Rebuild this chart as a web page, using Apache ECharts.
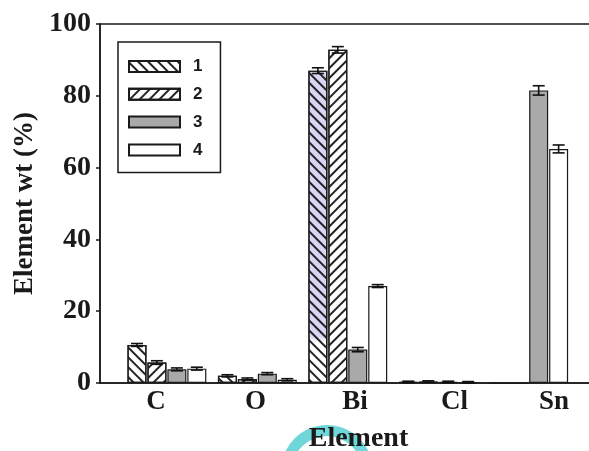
<!DOCTYPE html>
<html>
<head>
<meta charset="utf-8">
<script src="https://cdn.jsdelivr.net/npm/echarts@6/dist/echarts.min.js"></script>
<style>html,body{margin:0;padding:0;background:#fff}#c{width:589px;height:451px}</style>
</head>
<body>
<div id="c"></div>
<script>
// ---- data ----
const categories = ['C', 'O', 'Bi', 'Cl', 'Sn'];
const seriesNames = ['1', '2', '3', '4'];
const values1 = [10.6, 2.0, 87.0, 0.3, 0];
const values2 = [5.7, 1.1, 92.8, 0.4, 0];
const values3 = [3.8, 2.6, 9.3, 0.3, 81.5];
const values4 = [4.0, 0.9, 27.0, 0.2, 65.2];
const errors1 = [0.4, 0.3, 0.8, 0.2, 0];
const errors2 = [0.5, 0.3, 0.9, 0.2, 0];
const errors3 = [0.4, 0.3, 0.6, 0.2, 1.3];
const errors4 = [0.4, 0.3, 0.4, 0.2, 1.1];
const yTicks = [0, 20, 40, 60, 80, 100];

const allValues = [values1, values2, values3, values4];
const allErrors = [errors1, errors2, errors3, errors4];

// ---- layout ----
const gridLeft = 100, gridTop = 24, gridBottom = 68, gridRight = -28;
const gridW = 589 - gridLeft - gridRight;
const barStep = 90.45, firstBar = 166.9;     // px: group centres
const labStep = 99.5, firstLab = 156.1;      // px: category label centres
const barMin = 1 - (firstBar - gridLeft) / barStep;
const barMax = barMin + gridW / barStep;
const labMin = 1 - (firstLab - gridLeft) / labStep;
const labMax = labMin + gridW / labStep;
const barWidth = 19, barGapPct = 0.05;
const slot = barWidth * (1 + barGapPct);

const serif = '"Liberation Serif","Times New Roman",serif';
const ink = '#1a1a1a';

const hatch = (rot) => ({
  symbol: 'rect', symbolSize: 1,
  dashArrayX: [1, 0], dashArrayY: [1.3, 4.2],
  rotation: rot, color: '#222'
});

const styles = [
  { color: '#ffffff', borderColor: ink, borderWidth: 1.2, decal: hatch(Math.PI / 4) },
  { color: '#ffffff', borderColor: ink, borderWidth: 1.2, decal: hatch(-Math.PI / 4) },
  { color: '#a9a9a9', borderColor: ink, borderWidth: 1.2 },
  { color: '#ffffff', borderColor: ink, borderWidth: 1.2 }
];

const barSeries = seriesNames.map((name, i) => ({
  name, type: 'bar', xAxisIndex: 0, yAxisIndex: 0,
  barWidth, barGap: (barGapPct * 100) + '%',
  itemStyle: styles[i],
  data: allValues[i].map((v, k) => {
    const d = { value: [k + 1, v] };
    if (i === 0 && categories[k] === 'Bi') {
      d.itemStyle = {
        color: { type: 'linear', x: 0, y: 0, x2: 0, y2: 1, colorStops: [
          { offset: 0, color: '#d8d6f3' }, { offset: 0.85, color: '#d8d6f3' },
          { offset: 0.87, color: '#ffffff' }, { offset: 1, color: '#ffffff' }] }
      };
    }
    return d;
  })
}));

const errSeries = seriesNames.map((name, i) => ({
  type: 'custom', xAxisIndex: 0, yAxisIndex: 0, z: 5,
  encode: { x: 0, y: 1 },
  silent: true,
  data: allValues[i].map((v, k) => [k + 1, v, allErrors[i][k]]),
  renderItem: (params, api) => {
    const x = api.value(0), y = api.value(1), e = api.value(2);
    if (!e) return null;
    const top = api.coord([x, y + e]);
    const bot = api.coord([x, y - e]);
    const cx = top[0] + (i - 1.5) * slot;
    const hw = 6;
    const st = { stroke: '#111', lineWidth: 1.6 };
    return { type: 'group', children: [
      { type: 'line', shape: { x1: cx, y1: top[1], x2: cx, y2: bot[1] }, style: st },
      { type: 'line', shape: { x1: cx - hw, y1: top[1], x2: cx + hw, y2: top[1] }, style: st },
      { type: 'line', shape: { x1: cx - hw, y1: bot[1], x2: cx + hw, y2: bot[1] }, style: st }
    ]};
  }
}));

const chart = echarts.init(document.getElementById('c'), null, { renderer: 'canvas' });
chart.setOption({
  animation: false,
  backgroundColor: '#fff',
  graphic: [{
    type: 'ring', z: -1, silent: true,
    shape: { cx: 327, cy: 471, r: 46, r0: 35 },
    style: { fill: '#6fd6d9' }
  }],
  grid: { left: gridLeft, top: gridTop, bottom: gridBottom, right: gridRight,
          outerBoundsMode: 'none', containLabel: false,
          show: true, borderColor: ink, borderWidth: 1.5, backgroundColor: 'transparent' },
  legend: {
    orient: 'vertical', left: 118, top: 42,
    itemWidth: 51, itemHeight: 11, itemGap: 10.8,
    padding: [16, 18, 14, 10],
    borderColor: ink, borderWidth: 1.5,
    icon: 'rect',
    data: seriesNames,
    textStyle: { fontFamily: '"Liberation Sans",Arial,sans-serif', fontWeight: 'bold',
                 fontSize: 17, color: ink, padding: [0, 0, 0, 8] }
  },
  xAxis: [{
    type: 'value', min: barMin, max: barMax, position: 'bottom',
    axisLine: { show: false }, axisTick: { show: false }, axisLabel: { show: false },
    splitLine: { show: false }
  }, {
    type: 'value', min: labMin, max: labMax, position: 'bottom',
    axisLine: { show: true, lineStyle: { color: ink, width: 1.5 } },
    axisTick: { show: false }, splitLine: { show: false },
    axisLabel: {
      customValues: categories.map((c, k) => k + 1),
      formatter: (v) => categories[Math.round(v) - 1] || '',
      fontFamily: serif, fontWeight: 'bold', fontSize: 27, color: ink, margin: 6
    },
    name: 'Element', nameLocation: 'middle', nameGap: 42,
    nameTextStyle: { fontFamily: serif, fontWeight: 'bold', fontSize: 28, color: ink }
  }],
  yAxis: {
    type: 'value', min: yTicks[0], max: yTicks[yTicks.length - 1], interval: 20,
    axisLine: { show: true, lineStyle: { color: ink, width: 1.5 } },
    axisTick: { show: true, inside: false, length: 4, lineStyle: { color: ink, width: 1.5 } },
    splitLine: { show: false },
    axisLabel: { fontFamily: serif, fontWeight: 'bold', fontSize: 28, color: ink, margin: 9 },
    name: 'Element wt (%)', nameLocation: 'middle', nameGap: 57,
    nameTextStyle: { fontFamily: serif, fontWeight: 'bold', fontSize: 27, color: ink }
  },
  series: [...barSeries, ...errSeries]
});
</script>
</body>
</html>
